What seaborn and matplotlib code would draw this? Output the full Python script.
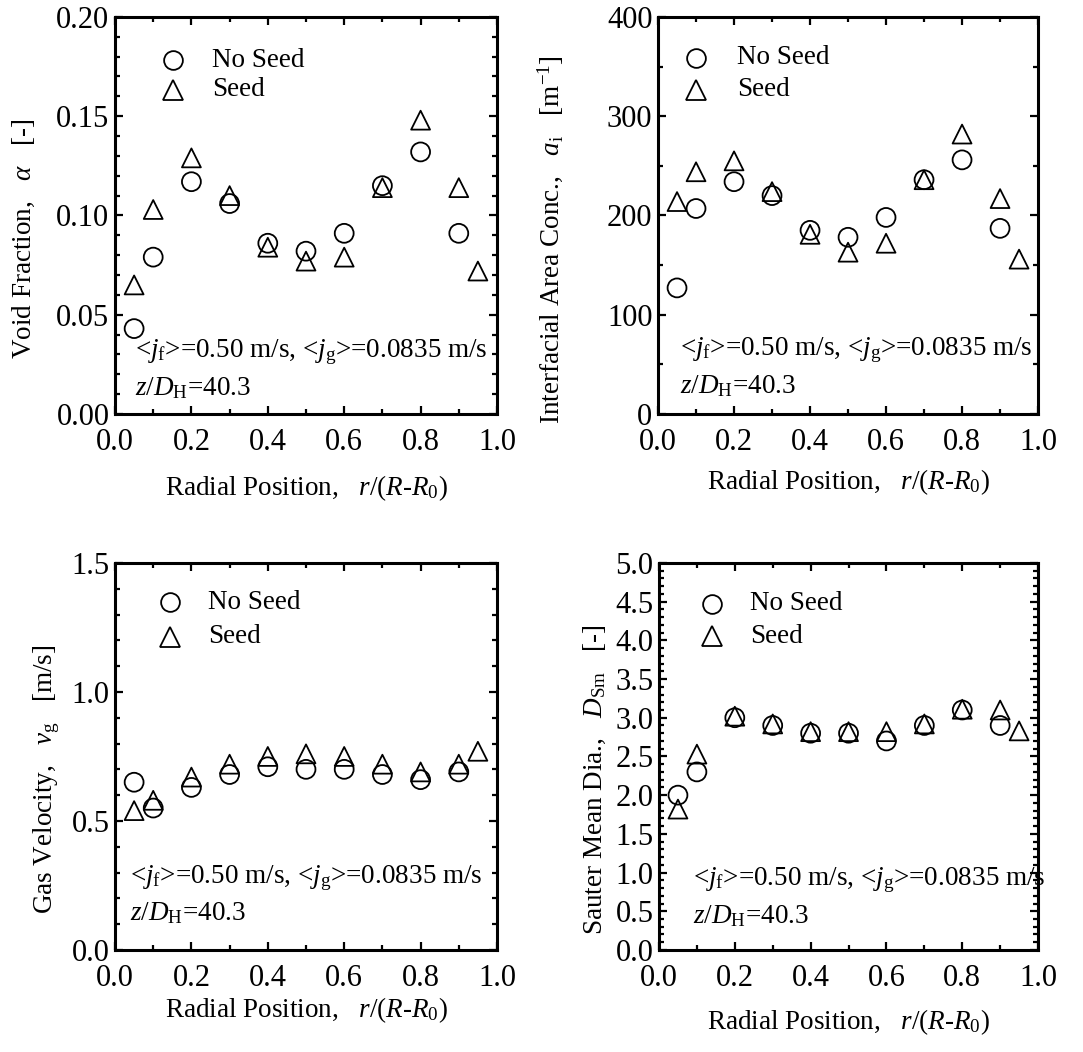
import numpy as np
import pandas as pd
import matplotlib
matplotlib.use("Agg")
import matplotlib.pyplot as plt
from matplotlib.ticker import MultipleLocator, FormatStrFormatter
import seaborn as sns

# Radial positions of the measurement points
r_no_seed = [0.05, 0.1, 0.2, 0.3, 0.4, 0.5, 0.6, 0.7, 0.8, 0.9]
r_seed = [0.05, 0.1, 0.2, 0.3, 0.4, 0.5, 0.6, 0.7, 0.8, 0.9, 0.95]

# Void fraction [-]
alpha_no_seed = [0.043, 0.079, 0.117, 0.106, 0.086, 0.082, 0.091, 0.115, 0.132, 0.091]
alpha_seed = [0.065, 0.103, 0.129, 0.110, 0.084, 0.077, 0.079, 0.114, 0.148, 0.114, 0.072]

# Interfacial area concentration [1/m]
ai_no_seed = [127, 207, 234, 220, 185, 178, 198, 236, 256, 187]
ai_seed = [214, 244, 255, 224, 181, 163, 172, 236, 282, 217, 156]

# Gas velocity [m/s]
vg_no_seed = [0.65, 0.55, 0.63, 0.68, 0.71, 0.70, 0.70, 0.68, 0.66, 0.69]
vg_seed = [0.54, 0.58, 0.67, 0.72, 0.75, 0.76, 0.75, 0.72, 0.69, 0.72, 0.77]

# Sauter mean diameter [-]
dsm_no_seed = [2.0, 2.3, 3.0, 2.9, 2.8, 2.8, 2.7, 2.9, 3.1, 2.9]
dsm_seed = [1.82, 2.53, 3.02, 2.92, 2.82, 2.82, 2.82, 2.92, 3.11, 3.10, 2.83]

series_labels = ["No Seed", "Seed"]

sns.set_theme(style="ticks")
plt.rcParams["font.family"] = ["Liberation Serif", "DejaVu Serif"]
plt.rcParams["mathtext.fontset"] = "custom"
plt.rcParams["mathtext.rm"] = "Liberation Serif"
plt.rcParams["mathtext.it"] = "Liberation Serif:italic"
plt.rcParams["mathtext.bf"] = "Liberation Serif:bold"
for key in ["text.color", "axes.labelcolor", "xtick.color", "ytick.color",
            "axes.edgecolor"]:
    plt.rcParams[key] = "black"

fig = plt.figure(figsize=(10.83, 10.52), dpi=100)

ax_pos = [
    [0.1062, 0.6065, 0.3527, 0.3774],
    [0.6076, 0.6065, 0.3509, 0.3774],
    [0.1062, 0.0970, 0.3527, 0.3679],
    [0.6085, 0.0970, 0.3500, 0.3679],
]

xlabel_text = r"Radial Position,   $r$/($R$-$R_\mathrm{0}$)"

panels = [
    dict(no=alpha_no_seed, seed=alpha_seed, ylim=(0, 0.20), major=0.05, minor=0.01,
         fmt="%.2f", ylabel=r"Void Fraction,   $\alpha$   [-]", ylx=-0.204,
         xly=-0.149, ann_x=0.052, ann_y=(0.144, 0.048),
         leg=(0.153, 0.891, 0.816, 0.253)),
    dict(no=ai_no_seed, seed=ai_seed, ylim=(0, 400), major=100, minor=50,
         fmt="%d", ylabel=r"Interfacial Area Conc.,   $a_\mathrm{i}$   [m$^{\mathrm{-1}}$]",
         ylx=-0.245, xly=-0.134, ann_x=0.057, ann_y=(0.149, 0.053),
         leg=(0.100, 0.897, 0.816, 0.208)),
    dict(no=vg_no_seed, seed=vg_seed, ylim=(0, 1.5), major=0.5, minor=0.1,
         fmt="%.1f", ylabel=r"Gas Velocity,   $v_\mathrm{g}$   [m/s]", ylx=-0.139,
         xly=-0.116, ann_x=0.039, ann_y=(0.173, 0.078),
         leg=(0.144, 0.899, 0.809, 0.244)),
    dict(no=dsm_no_seed, seed=dsm_seed, ylim=(0, 5.0), major=0.5, minor=0.1,
         fmt="%.1f", ylabel=r"Sauter Mean Dia.,   $D_\mathrm{Sm}$   [-]", ylx=-0.135,
         xly=-0.147, ann_x=0.090, ann_y=(0.168, 0.070),
         leg=(0.140, 0.894, 0.810, 0.240)),
]

for pos, p in zip(ax_pos, panels):
    ax = fig.add_axes(pos)
    df = pd.concat([
        pd.DataFrame({"r": r_no_seed, "y": p["no"], "case": series_labels[0]}),
        pd.DataFrame({"r": r_seed, "y": p["seed"], "case": series_labels[1]}),
    ])
    sns.scatterplot(data=df, x="r", y="y", style="case", hue="case",
                    markers={"No Seed": "o", "Seed": "^"},
                    palette={"No Seed": "black", "Seed": "black"},
                    s=185, linewidth=1.3, ax=ax, legend=False)
    # hollow markers
    for coll in ax.collections:
        coll.set_facecolor("none")
        coll.set_edgecolor("black")
        coll.set_linewidth(1.3)

    ax.set_xlim(0, 1.0)
    ax.set_ylim(*p["ylim"])
    ax.xaxis.set_major_locator(MultipleLocator(0.2))
    ax.xaxis.set_minor_locator(MultipleLocator(0.1))
    ax.xaxis.set_major_formatter(FormatStrFormatter("%.1f"))
    ax.yaxis.set_major_locator(MultipleLocator(p["major"]))
    ax.yaxis.set_minor_locator(MultipleLocator(p["minor"]))
    ax.yaxis.set_major_formatter(FormatStrFormatter(p["fmt"]))
    ax.tick_params(which="both", direction="in", top=True, right=True,
                   colors="black", labelsize=22, width=1.6)
    ax.tick_params(which="major", length=6)
    ax.tick_params(which="minor", length=3.5)
    ax.tick_params(axis="x", which="major", pad=10)
    ax.tick_params(axis="y", which="major", pad=4)
    for sp in ax.spines.values():
        sp.set_linewidth(2.2)
        sp.set_color("black")

    ax.set_xlabel(xlabel_text, fontsize=19.5)
    ax.set_ylabel(p["ylabel"], fontsize=19.5)
    ax.xaxis.set_label_coords(0.5, p["xly"])
    ax.yaxis.set_label_coords(p["ylx"], 0.44)

    # legend drawn as marker + label entries
    lx, ly_no, ly_seed, tx = p["leg"]
    ax.plot([lx], [ly_no], marker="o", ms=13.5, mfc="none", mec="black", mew=1.3,
            transform=ax.transAxes, linestyle="none")
    ax.plot([lx], [ly_seed], marker="^", ms=14.5, mfc="none", mec="black", mew=1.3,
            transform=ax.transAxes, linestyle="none")
    ax.text(tx, ly_no, series_labels[0], transform=ax.transAxes, fontsize=19.5,
            va="center", ha="left", color="black")
    ax.text(tx, ly_seed, series_labels[1], transform=ax.transAxes, fontsize=19.5,
            va="center", ha="left", color="black")

    ax.text(p["ann_x"], p["ann_y"][0],
            r"<$j_\mathrm{f}$>=0.50 m/s, <$j_\mathrm{g}$>=0.0835 m/s",
            transform=ax.transAxes, fontsize=19.5, ha="left", va="baseline",
            color="black")
    ax.text(p["ann_x"], p["ann_y"][1], r"$z$/$D_\mathrm{H}$=40.3",
            transform=ax.transAxes, fontsize=19.5, ha="left", va="baseline",
            color="black")

fig.savefig("out.png", dpi=100, facecolor="white")
